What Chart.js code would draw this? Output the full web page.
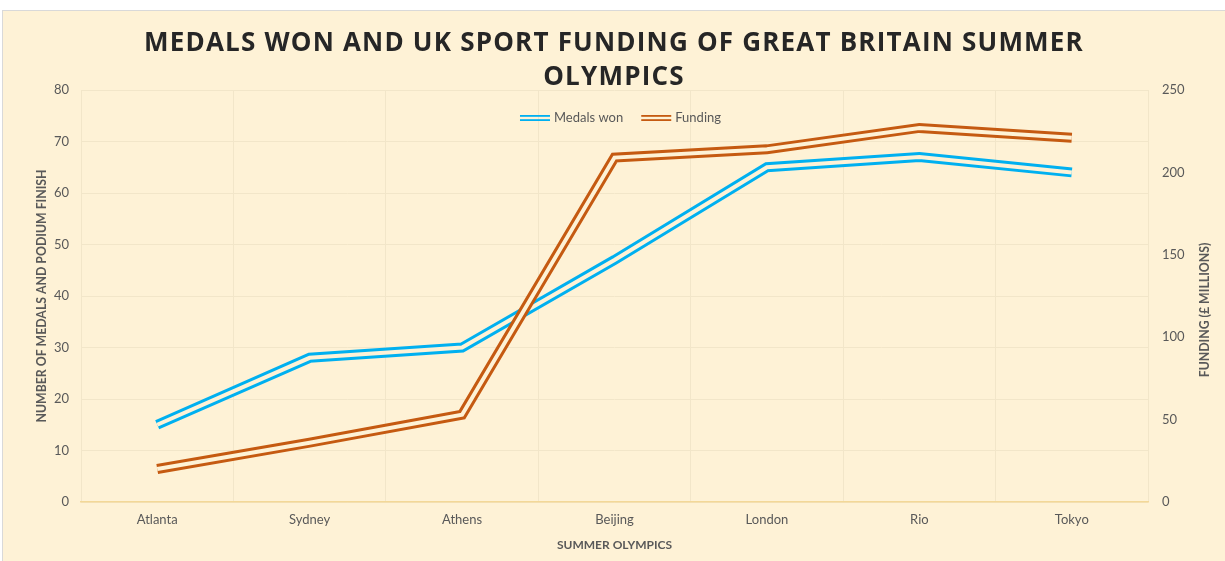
<!DOCTYPE html>
<html><head><meta charset="utf-8">
<script src="https://cdn.jsdelivr.net/npm/chart.js@4.4.0/dist/chart.umd.min.js"></script>
<style>
html,body{margin:0;padding:0;background:#fff;}
#wrap{position:absolute;left:2px;top:10px;width:1223px;height:551px;border-left:1px solid #D9D9D9;border-top:1px solid #D9D9D9;background:#FEF2D6;}
canvas{display:block;}
</style></head><body>
<div id="wrap"><canvas id="c" width="1222" height="550"></canvas></div>
<script>
const categories = ['Atlanta', 'Sydney', 'Athens', 'Beijing', 'London', 'Rio', 'Tokyo'];
const medalsWon = [15, 28, 30, 47, 65, 67, 64];
const fundingMillions = [20, 36, 53, 209, 214, 227, 221];
const seriesLabels = ['Medals won', 'Funding'];
const titleLines = ['MEDALS WON AND UK SPORT FUNDING OF GREAT BRITAIN SUMMER', 'OLYMPICS'];
const rightAxisTitle = 'FUNDING (£ MILLIONS)';

const BG = '#FEF2D6';
const BLUE = '#00B0F0';
const ORANGE = '#C55A11';
const GRID = '#F2E6C9';
const TXT = '#595959';
const FONT = 'Lato';

const titleSpacing = {
  id: 'titleSpacing',
  afterInit(chart) {
    const tb = chart.titleBlock;
    if (!tb) return;
    const orig = tb.draw.bind(tb);
    tb.draw = function (...args) {
      const ctx = chart.ctx;
      ctx.save();
      ctx.letterSpacing = '1.2px';
      orig(...args);
      ctx.restore();
    };
  }
};

const rightTitle = {
  id: 'rightTitle',
  afterDraw(chart) {
    const ctx = chart.ctx, s = chart.scales.y1, a = chart.chartArea;
    ctx.save();
    ctx.translate(s.right - 20, (a.top + a.bottom) / 2 + 14);
    ctx.rotate(-Math.PI / 2);
    ctx.font = 'bold 12.3px ' + FONT;
    ctx.fillStyle = TXT;
    ctx.textAlign = 'center';
    ctx.textBaseline = 'middle';
    ctx.fillText(rightAxisTitle, 0, 0);
    ctx.restore();
  }
};

const doubleLegend = {
  id: 'doubleLegend',
  afterDatasetsDraw(chart) {
    const ctx = chart.ctx, a = chart.chartArea;
    const items = chart.data.datasets.filter(d => !d.label.startsWith('_'));
    ctx.save();
    ctx.font = '13px ' + FONT;
    const sw = 30, sg = 4, ig = 18;
    const widths = items.map(d => sw + sg + ctx.measureText(d.label).width);
    const total = widths.reduce((s, w) => s + w, 0) + ig * (items.length - 1);
    let x = (a.left + a.right) / 2 - total / 2 + 6;
    const y = a.top + 28;
    items.forEach((d, i) => {
      ctx.fillStyle = d.borderColor;
      ctx.fillRect(x, y - 3, sw, 1.8);
      ctx.fillRect(x, y + 1.2, sw, 1.8);
      ctx.fillStyle = TXT;
      ctx.textBaseline = 'middle';
      ctx.textAlign = 'left';
      ctx.fillText(d.label, x + sw + sg, y);
      x += widths[i] + ig;
    });
    ctx.restore();
  }
};

const lineCommon = { pointRadius: 0, pointHoverRadius: 0, tension: 0, borderJoinStyle: 'miter', borderCapStyle: 'butt', fill: false };

new Chart(document.getElementById('c'), {
  type: 'line',
  data: {
    labels: categories,
    datasets: [
      { ...lineCommon, label: seriesLabels[0], data: medalsWon, yAxisID: 'y', borderColor: BLUE, borderWidth: 10, order: 4 },
      { ...lineCommon, label: '_gapMedals', data: medalsWon, yAxisID: 'y', borderColor: BG, borderWidth: 4, order: 3 },
      { ...lineCommon, label: seriesLabels[1], data: fundingMillions, yAxisID: 'y1', borderColor: ORANGE, borderWidth: 10, order: 2 },
      { ...lineCommon, label: '_gapFunding', data: fundingMillions, yAxisID: 'y1', borderColor: BG, borderWidth: 4, order: 1 }
    ]
  },
  options: {
    responsive: false,
    animation: false,
    layout: { padding: 0 },
    plugins: {
      legend: { display: false },
      tooltip: { enabled: false },
      title: {
        display: true,
        text: titleLines,
        color: '#262626',
        font: { family: 'Open Sans', size: 26, weight: 'bold', lineHeight: 1.3 },
        padding: { top: 16, bottom: -4.6 }
      }
    },
    scales: {
      x: {
        type: 'category',
        offset: true,
        grid: { display: true, offset: true, color: GRID, drawTicks: false, lineWidth: 1 },
        border: { display: true, color: '#F3D898', width: 1.5 },
        ticks: { color: TXT, font: { family: FONT, size: 13 }, padding: 10 },
        title: { display: true, text: 'SUMMER OLYMPICS', color: TXT, font: { family: FONT, size: 12, weight: 'bold' }, padding: { top: 0, bottom: 9 } },
        afterFit: s => { s.height = 59; }
      },
      y: {
        position: 'left',
        min: 0, max: 80,
        ticks: { stepSize: 10, color: TXT, font: { family: FONT, size: 13 }, padding: 12 },
        grid: { color: GRID, drawTicks: false },
        border: { display: false },
        title: { display: true, text: 'NUMBER OF MEDALS AND PODIUM FINISH', color: TXT, font: { family: FONT, size: 12.3, weight: 'bold' }, padding: { top: 32, bottom: 0 } },
        afterFit: s => { s.width = 78; }
      },
      y1: {
        position: 'right',
        min: 0, max: 250,
        ticks: { stepSize: 50, color: TXT, font: { family: FONT, size: 13 }, padding: 14 },
        grid: { drawOnChartArea: false, drawTicks: false },
        border: { display: false },
        title: { display: false },
        afterFit: s => { s.width = 77; }
      }
    }
  },
  plugins: [titleSpacing, rightTitle, doubleLegend]
});
</script>
</body></html>
